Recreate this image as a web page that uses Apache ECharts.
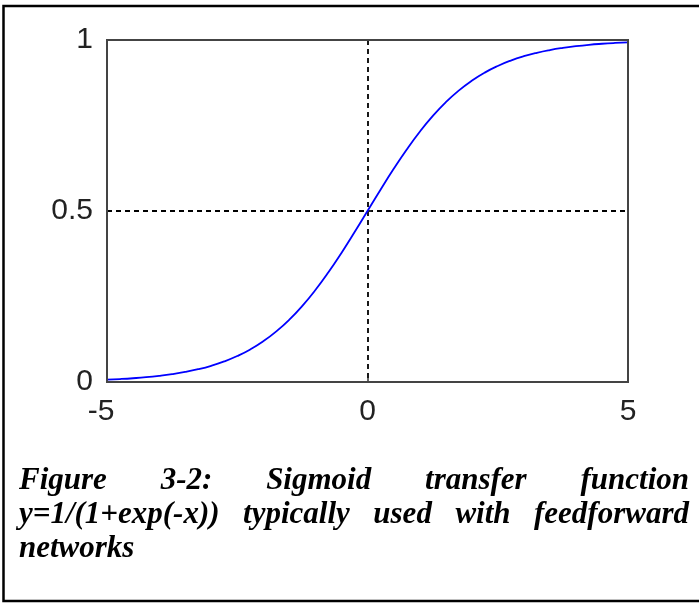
<!DOCTYPE html>
<html><head><meta charset="utf-8">
<script src="https://cdn.jsdelivr.net/npm/echarts@6/dist/echarts.min.js"></script>
<style>html,body{margin:0;padding:0;background:#fff}#c{width:699px;height:603px}</style>
</head><body><div id="c"></div>
<script>
// Values
const xValues = [-5,-4.75,-4.5,-4.25,-4,-3.75,-3.5,-3.25,-3,-2.75,-2.5,-2.25,-2,-1.75,-1.5,-1.25,-1,-0.75,-0.5,-0.25,0,
  0.25,0.5,0.75,1,1.25,1.5,1.75,2,2.25,2.5,2.75,3,3.25,3.5,3.75,4,4.25,4.5,4.75,5];
const yValues = [0.0067,0.0086,0.0110,0.0140,0.0180,0.0230,0.0293,0.0373,0.0474,0.0601,0.0759,0.0953,0.1192,0.1480,0.1824,0.2227,0.2689,0.3208,0.3775,0.4378,0.5,
  0.5622,0.6225,0.6792,0.7311,0.7773,0.8176,0.8520,0.8808,0.9047,0.9241,0.9399,0.9526,0.9627,0.9707,0.9770,0.9820,0.9860,0.9890,0.9914,0.9933];
const xTickLabels = ['-5','0','5'];
const yTickLabels = ['0','0.5','1'];
const captionLines = [
  ['Figure','3-2:','Sigmoid','transfer','function'],
  ['y=1/(1+exp(-x))','typically','used','with','feedforward'],
  ['networks']
];

const chart = echarts.init(document.getElementById('c'), null, {renderer:'canvas'});

const capFont = 'italic bold 31px "Liberation Serif"';
const mctx = document.createElement('canvas').getContext('2d');
mctx.font = capFont;
const capLeft = 19, capRight = 689, capTop = [481, 515, 549];
const graphics = [{
  type:'rect', shape:{x:3.5, y:6, width:720, height:595},
  style:{fill:'none', stroke:'#000', lineWidth:2.5}, silent:true
}];
captionLines.forEach((words, li) => {
  const widths = words.map(w => mctx.measureText(w).width);
  const total = widths.reduce((a,b)=>a+b,0);
  const justify = li < captionLines.length - 1 && words.length > 1;
  const gap = justify ? (capRight - capLeft - total) / (words.length - 1) : mctx.measureText(' ').width;
  let x = capLeft;
  words.forEach((w, i) => {
    graphics.push({type:'text', x:x, y:capTop[li], silent:true,
      style:{text:w, font:capFont, fill:'#000', align:'left', verticalAlign:'middle'}});
    x += widths[i] + gap;
  });
});

const labelFont = {fontSize:30, fontFamily:'Liberation Sans', color:'#222'};
chart.setOption({
  animation:false,
  backgroundColor:'#fff',
  grid:{left:107, right:71, top:40, bottom:221, show:true, borderColor:'#444', borderWidth:2, backgroundColor:'transparent', z:5},
  xAxis:{type:'value', min:-5, max:5, interval:5,
    axisLine:{show:false},
    axisTick:{show:true, inside:true, length:4, lineStyle:{color:'#333', width:1.5}},
    splitLine:{show:true, lineStyle:{type:[5,4], color:'#000', width:1.8}},
    axisLabel:Object.assign({margin:15,
      formatter:v => { const i = [-5,0,5].indexOf(v); const t = xTickLabels[i]; return v < 0 ? '{n|' + t + '}' : t; },
      rich:{n:{fontSize:30, fontFamily:'Liberation Sans', color:'#222', padding:[0,12,0,0]}}}, labelFont)
  },
  yAxis:{type:'value', min:0, max:1, interval:0.5,
    axisLine:{show:false},
    axisTick:{show:true, inside:true, length:4, lineStyle:{color:'#333', width:1.5}},
    splitLine:{show:true, lineStyle:{type:[5,4], color:'#000', width:1.8}},
    axisLabel:Object.assign({margin:14,
      formatter:v => yTickLabels[[0,0.5,1].indexOf(v)]}, labelFont)
  },
  series:[{type:'line', data:xValues.map((x,i)=>[x, yValues[i]]), smooth:true, showSymbol:false,
    lineStyle:{color:'#0000ff', width:1.8}, z:3}],
  graphic:graphics
});
</script></body></html>
